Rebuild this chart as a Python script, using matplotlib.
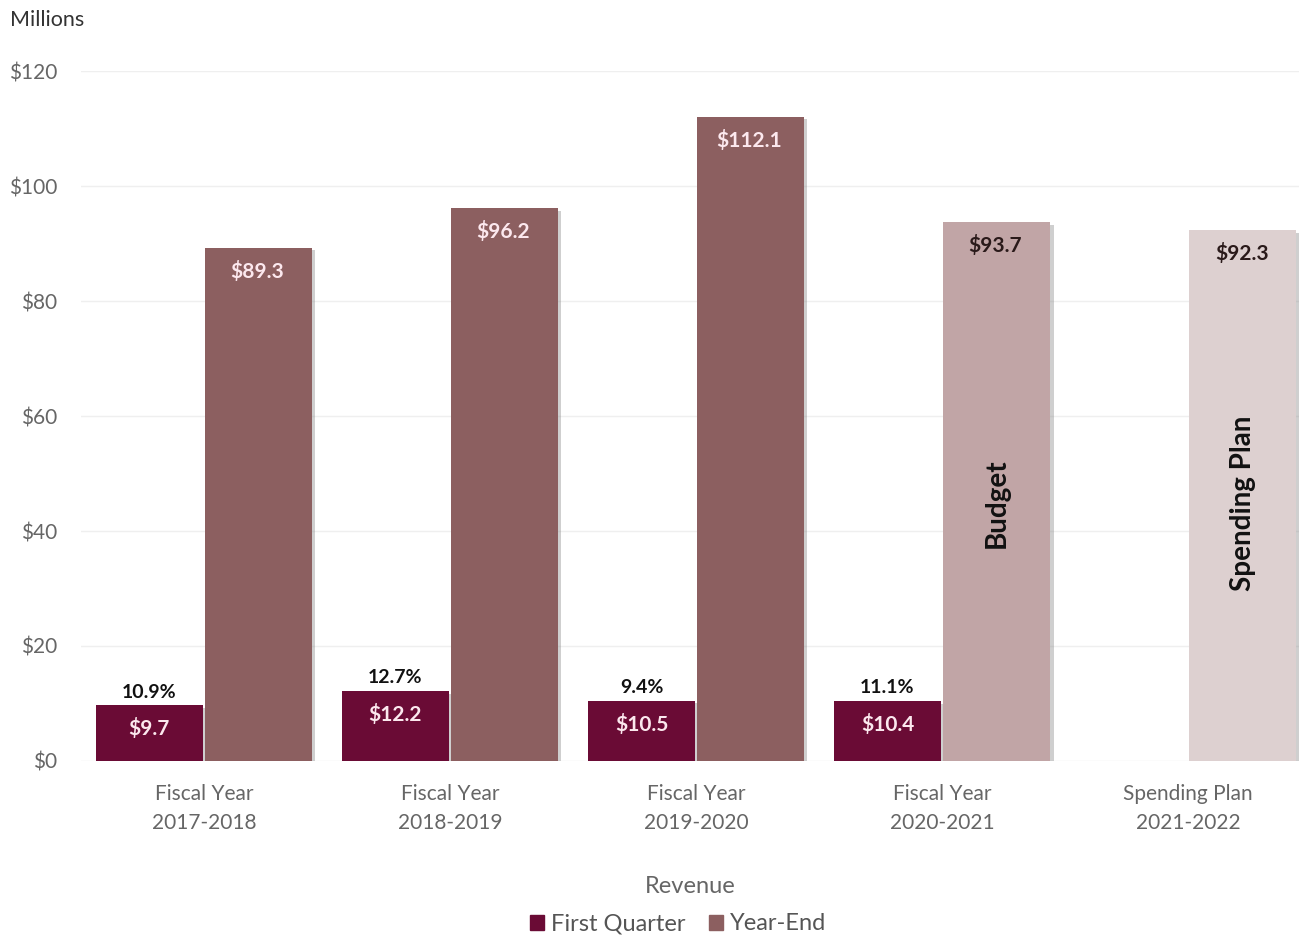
import numpy as np
import matplotlib
matplotlib.use('Agg')
import matplotlib.pyplot as plt
import matplotlib.patheffects as pe
from matplotlib.patches import Patch

plt.rcParams['font.family'] = ['Lato', 'DejaVu Sans']

# Revenue in millions
categories = ['Fiscal Year\n2017-2018', 'Fiscal Year\n2018-2019', 'Fiscal Year\n2019-2020',
              'Fiscal Year\n2020-2021', 'Spending Plan\n2021-2022']
first_quarter = [9.7, 12.2, 10.5, 10.4]
year_end = [89.3, 96.2, 112.1, 93.7, 92.3]
pct_of_year = ['10.9%', '12.7%', '9.4%', '11.1%']
bar_notes = {3: 'Budget', 4: 'Spending Plan'}

q_color = '#6A0B35'
ye_colors = ['#8C5F60', '#8C5F60', '#8C5F60', '#C1A5A6', '#DDD0D0']
ye_text = ['#FCE8EE', '#FCE8EE', '#FCE8EE', '#2A1A1A', '#2A1A1A']

fig = plt.figure(figsize=(13.04, 9.36), dpi=100)
ax = fig.add_axes([0.062, 0.187, 0.934, 0.737])

x = np.arange(len(categories))
w = 0.435
shadow = [pe.SimplePatchShadow(offset=(2.5, -2), shadow_rgbFace='#777777', alpha=0.35), pe.Normal()]

qx = x[:len(first_quarter)] - w / 2 - 0.004
qbars = ax.bar(qx, first_quarter, width=w, color=q_color, zorder=3)
ybars = ax.bar(x + w / 2 + 0.004, year_end, width=w, color=ye_colors, zorder=3)
for b in list(qbars) + list(ybars):
    b.set_path_effects(shadow)

for xi, v, p in zip(qx, first_quarter, pct_of_year):
    ax.annotate(f'${v:.1f}', (xi, v), xytext=(0, -17), textcoords='offset points',
                ha='center', va='center', fontsize=15, fontweight='bold', color='#FCE8EE', zorder=4)
    ax.annotate(p, (xi, v), xytext=(0, 9.5), textcoords='offset points',
                ha='center', va='center', fontsize=14, fontweight='bold', color='#111111', zorder=4)

for i, v in enumerate(year_end):
    ax.annotate(f'${v:.1f}', (x[i] + w / 2, v), xytext=(0, -17), textcoords='offset points',
                ha='center', va='center', fontsize=15, fontweight='bold', color=ye_text[i], zorder=4)

for i, note in bar_notes.items():
    ax.text(x[i] + w / 2 + 0.004, 44.8, note, rotation=90, ha='center', va='center',
            fontsize=20, fontweight='bold', color='#111111', zorder=4)

ax.set_xlim(-0.5, 4.45)
ax.set_ylim(0, 120)
ax.set_yticks(np.arange(0, 121, 20))
ax.set_yticklabels([f'${t}' for t in range(0, 121, 20)])
ax.set_xticks(x)
ax.set_xticklabels(categories, linespacing=1.55)
ax.tick_params(axis='both', length=0, labelsize=15, labelcolor='#666666')
ax.tick_params(axis='y', pad=17)
ax.tick_params(axis='x', pad=16.5)
ax.grid(axis='y', color='#EFEFEF', linewidth=1, zorder=0)
for s in ax.spines.values():
    s.set_visible(False)

ax.set_xlabel('Revenue', fontsize=17, color='#666666', labelpad=31)
fig.text(0.008, 0.979, 'Millions', fontsize=15.5, color='#333333', va='center')

handles = [Patch(color=q_color, label='First Quarter'), Patch(color='#8C5F60', label='Year-End')]
fig.legend(handles=handles, loc='center', bbox_to_anchor=(0.52, 0.013), ncol=2, frameon=False,
           fontsize=17, labelcolor='#555555', handlelength=0.6, handleheight=0.6,
           handletextpad=0.3, columnspacing=1.0)

fig.savefig('out.png', dpi=100, facecolor='white')
